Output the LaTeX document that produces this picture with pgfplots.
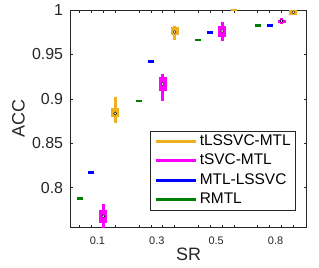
\documentclass[border=0pt]{standalone}
\usepackage{fontspec}
\setmainfont{Liberation Sans}
\usepackage{pgfplots}
\pgfplotsset{compat=1.18}
\definecolor{cOr}{RGB}{237,177,32}
\definecolor{cMa}{RGB}{255,0,255}
\definecolor{cBl}{RGB}{0,0,255}
\definecolor{cGr}{RGB}{0,128,0}
\definecolor{axc}{RGB}{38,38,38}
\begin{document}
\begin{tikzpicture}
\useasboundingbox (0,0) rectangle (319bp,268bp);
\begin{axis}[
 at={(70.3bp,40.3bp)}, anchor=south west,
 scale only axis, width=236.4bp, height=217.7bp,
 xmin=0.22, xmax=20.12, ymin=0.755, ymax=1,
 axis line style={axc, line width=0.6bp},
 tick style={axc, line width=0.6bp},
 tick align=inside, major tick length=3bp,
 /pgf/number format/assume math mode=true,
 xtick={1,2,3,4,6,7,8,9,11,12,13,14,16,17,18,19}, xticklabels={},
 extra x ticks={2.5,7.5,12.5,17.5}, extra x tick labels={0.1,0.3,0.5,0.8},
 extra x tick style={major tick length=0pt},
 xticklabel style={font=\fontsize{11}{13}\selectfont, text=axc, inner sep=0pt, anchor=north, yshift=-9bp},
 ytick={0.8,0.85,0.9,0.95,1}, yticklabels={0.8,0.85,0.9,0.95,1},
 yticklabel style={font=\fontsize{16}{19}\selectfont, text=axc, inner sep=0pt, anchor=east, xshift=-7bp},
 xlabel={SR}, ylabel={ACC},
 xlabel style={font=\fontsize{18}{21}\selectfont, text=axc, at={(axis description cs:0.5,-0.1484)}, anchor=base},
 ylabel style={font=\fontsize{18}{21}\selectfont, text=axc, at={(axis description cs:-0.2191,0.5)}, anchor=center},
 legend style={at={(rel axis cs:0.9548,0.4456)}, anchor=north east, draw=axc, line width=0.6bp, fill=white, inner xsep=5bp, inner ysep=3bp, row sep=5bp, column sep=2bp, font=\fontsize{15.5}{18}\selectfont, nodes={inner sep=0pt, text height=11.5bp, text depth=3bp, text=black}},
 legend cell align=left,
 legend image code/.code={\draw[line width=2.7bp] (0bp,0bp) -- (40bp,0bp);},
]
\addlegendimage{cOr}\addlegendentry{tLSSVC-MTL}
\addlegendimage{cMa}\addlegendentry{tSVC-MTL}
\addlegendimage{cBl}\addlegendentry{MTL-LSSVC}
\addlegendimage{cGr}\addlegendentry{RMTL}
% RMTL (zero spread)
\addplot[forget plot, only marks, mark=-, mark size=3bp, mark options={line width=2.5bp, cGr}] coordinates {(1,0.788) (6,0.8978) (11,0.9665) (16,0.9828)};
% MTL-LSSVC (zero spread)
\addplot[forget plot, only marks, mark=-, mark size=3bp, mark options={line width=2.5bp, cBl}] coordinates {(2,0.817) (7,0.942) (12,0.9749) (17,0.9828)};
% tSVC-MTL whiskers
\addplot[forget plot, cMa, line width=3bp, unbounded coords=jump] coordinates {(3,0.752) (3,0.7817) (3,nan) (8,0.898) (8,0.928) (8,nan) (13,0.9647) (13,0.9868) (13,nan) (18,0.9839) (18,0.9906)};
% tSVC-MTL boxes
\addplot[forget plot, cMa, line width=8bp, unbounded coords=jump] coordinates {(3,0.7607) (3,0.7747) (3,nan) (8,0.9087) (8,0.925) (8,nan) (13,0.970) (13,0.9823) (13,nan) (18,0.9853) (18,0.9893)};
% tSVC-MTL medians
\addplot[forget plot, only marks, mark=*, mark size=1.5bp, mark options={fill=white, draw=none}] coordinates {(3,0.768) (8,0.9166) (13,0.9763) (18,0.9876)};
% tLSSVC-MTL whiskers
\addplot[forget plot, cOr, line width=3bp, unbounded coords=jump] coordinates {(4,0.873) (4,0.902) (4,nan) (9,0.966) (9,0.982) (9,nan) (19,0.9945) (19,1.0)};
% tLSSVC-MTL boxes
\addplot[forget plot, cOr, line width=8bp, unbounded coords=jump] coordinates {(4,0.880) (4,0.890) (4,nan) (9,0.9718) (9,0.9805) (9,nan) (19,0.9945) (19,1.0)};
% tLSSVC-MTL zero spread at SR 0.5
\addplot[forget plot, only marks, mark=-, mark size=3bp, mark options={line width=2.5bp, cOr}] coordinates {(14,1.0)};
% tLSSVC-MTL medians
\addplot[forget plot, only marks, mark=*, mark size=1.5bp, mark options={fill=white, draw=none}] coordinates {(4,0.8836) (9,0.9752) (19,0.9975)};
\end{axis}
\end{tikzpicture}
\end{document}
